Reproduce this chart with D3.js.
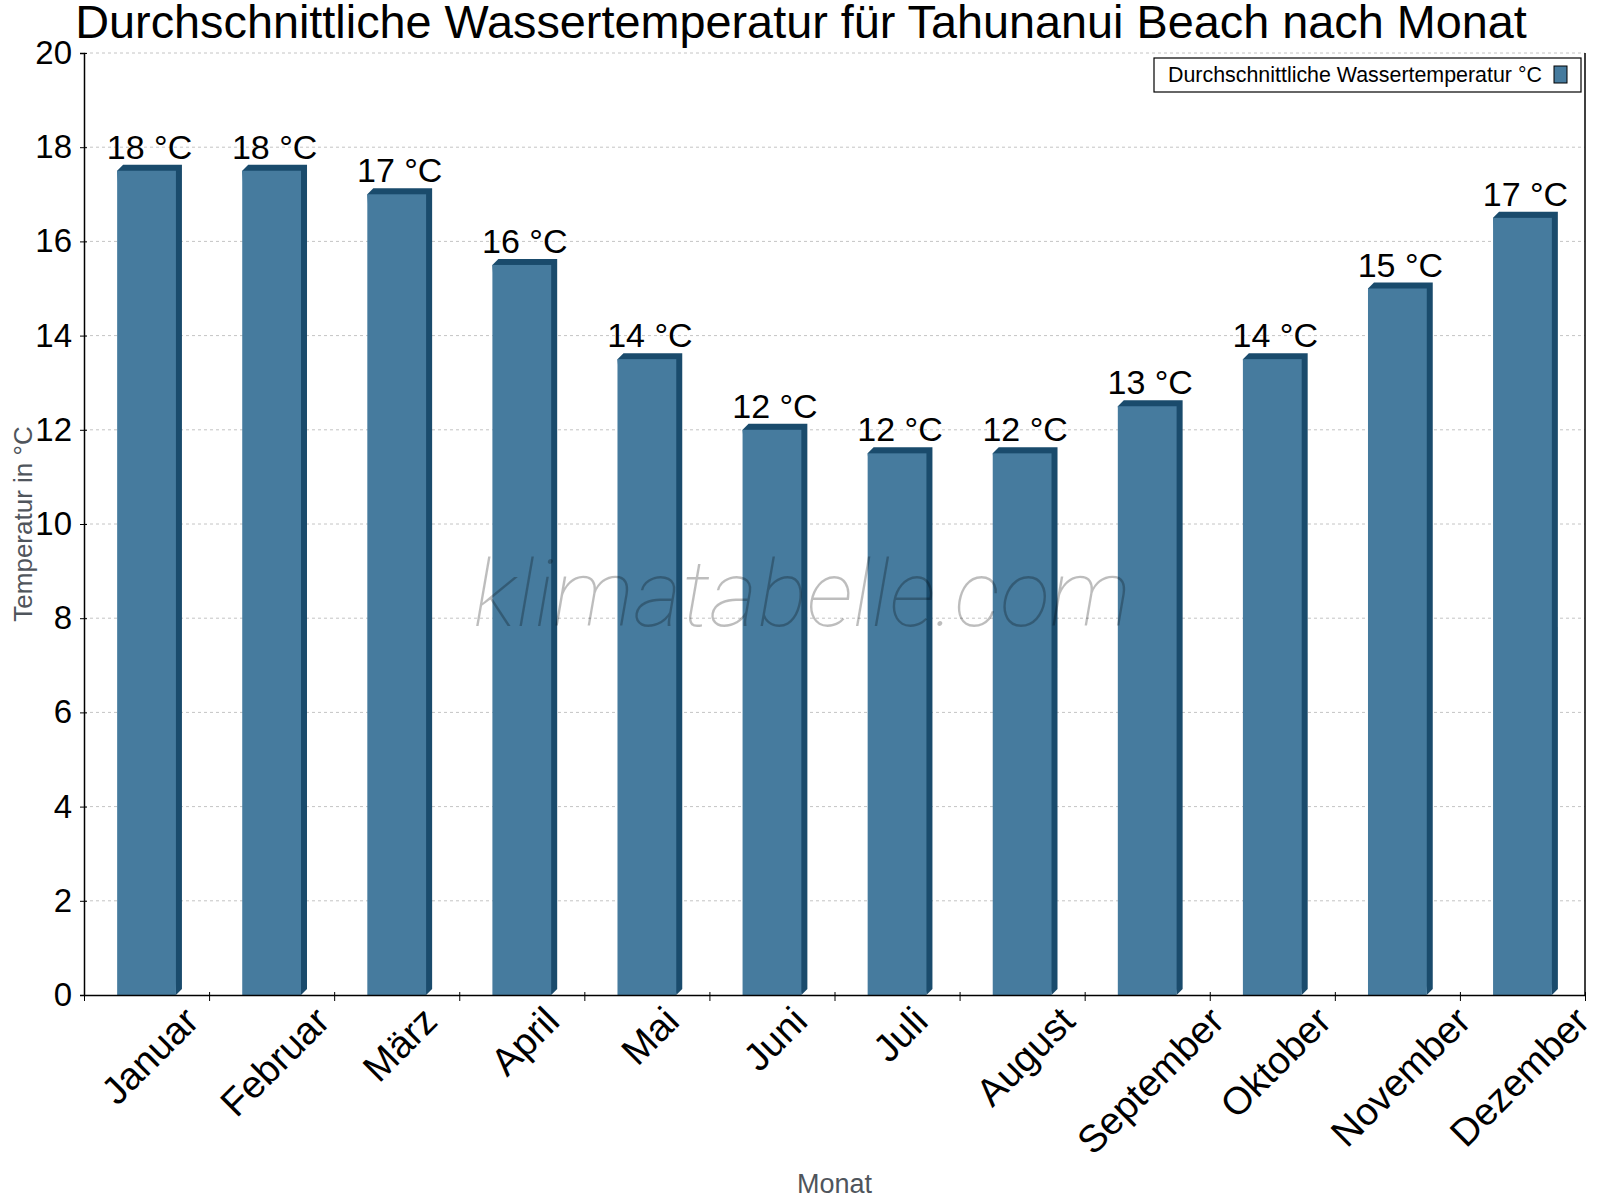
<!DOCTYPE html>
<html lang="de">
<head>
<meta charset="UTF-8" />
<title>Wassertemperatur Tahunanui Beach</title>
<script src="https://cdn.jsdelivr.net/npm/d3@7"></script>
<style>
    html, body { margin: 0; padding: 0; background: #fff; }
    svg { display: block; font-family: "Liberation Sans", Arial, sans-serif; }
</style>
</head>
<body>
<div id="chart"></div>
<script>
    // chart data
    const months = ["Januar", "Februar", "März", "April", "Mai", "Juni",
        "Juli", "August", "September", "Oktober", "November", "Dezember"];
    const waterTemp = [17.5, 17.5, 17.0, 15.5, 13.5, 12.0, 11.5, 11.5, 12.5, 13.5, 15.0, 16.5];
    const yTicks = [0, 2, 4, 6, 8, 10, 12, 14, 16, 18, 20];

    const title = "Durchschnittliche Wassertemperatur für Tahunanui Beach nach Monat";
    const seriesName = "Durchschnittliche Wassertemperatur °C";

    const width = 1600, height = 1200;
    const plot = { left: 84, right: 1585, top: 53, bottom: 995 };
    const front = "#467b9e", dark = "#1a4b6c";
    const depth = 6;

    const svg = d3.select("#chart").append("svg")
        .attr("width", width)
        .attr("height", height);

    const x = d3.scaleBand().domain(months).range([plot.left, plot.right]).padding(0);
    const y = d3.scaleLinear().domain([0, 20]).range([plot.bottom, plot.top]);

    // gridlines
    svg.append("g")
        .selectAll("line")
        .data(yTicks.filter(d => d > 0))
        .join("line")
        .attr("x1", plot.left).attr("x2", plot.right)
        .attr("y1", d => y(d)).attr("y2", d => y(d))
        .attr("stroke", "#c4c4c4")
        .attr("stroke-dasharray", "3,3");

    // bars (front face + dark top and side)
    const bw = x.bandwidth() * 0.47;
    const bars = svg.append("g")
        .selectAll("g")
        .data(months.map((m, i) => ({ m, v: waterTemp[i] })))
        .join("g");

    bars.append("path")
        .attr("fill", dark)
        .attr("d", d => {
            const x0 = x(d.m) + (x.bandwidth() - bw) / 2, x1 = x0 + bw;
            const yt = y(d.v), yb = y(0);
            return `M${x0},${yt} L${x0 + depth},${yt - depth} L${x1 + depth},${yt - depth}
                    L${x1 + depth},${yb - depth} L${x1},${yb} Z`;
        });

    bars.append("rect")
        .attr("fill", front)
        .attr("x", d => x(d.m) + (x.bandwidth() - bw) / 2)
        .attr("y", d => y(d.v))
        .attr("width", bw)
        .attr("height", d => y(0) - y(d.v));

    bars.append("text")
        .attr("x", d => x(d.m) + x.bandwidth() / 2 + depth / 2)
        .attr("y", d => y(d.v) - depth - 6)
        .attr("text-anchor", "middle")
        .attr("font-size", 34)
        .attr("fill", "#000")
        .text(d => Math.round(d.v) + " °C");

    // y axis
    const yAxis = svg.append("g")
        .attr("transform", `translate(${plot.left},0)`)
        .call(d3.axisLeft(y).tickValues(yTicks).tickSize(4).tickPadding(8));
    yAxis.select(".domain").attr("stroke", "#000").attr("stroke-width", 1.5);
    yAxis.selectAll(".tick line").attr("x2", -4).attr("x1", 3).attr("stroke", "#000");
    yAxis.selectAll(".tick text")
        .attr("font-size", 33)
        .attr("font-family", "Liberation Sans, Arial, sans-serif")
        .attr("fill", "#000");

    // right border
    svg.append("line")
        .attr("x1", plot.right).attr("x2", plot.right)
        .attr("y1", plot.top).attr("y2", plot.bottom)
        .attr("stroke", "#000").attr("stroke-width", 1.5);

    // x axis with ticks at the band boundaries
    const xb = d3.scaleLinear().domain([0, months.length]).range([plot.left, plot.right]);
    const xAxis = svg.append("g")
        .attr("transform", `translate(0,${plot.bottom})`)
        .call(d3.axisBottom(xb).tickValues(d3.range(0, months.length + 1)).tickFormat("").tickSizeOuter(0));
    xAxis.select(".domain").attr("stroke", "#000").attr("stroke-width", 1.5);
    xAxis.selectAll(".tick line").attr("y1", -3).attr("y2", 6).attr("stroke", "#000");

    // rotated month labels, rotated box centred under the bar, kept inside the image
    const labelSize = 38.5;
    const labelTop = plot.bottom + 9;
    svg.append("g")
        .selectAll("text")
        .data(months)
        .join("text")
        .attr("font-size", labelSize)
        .attr("text-anchor", "middle")
        .attr("dominant-baseline", "central")
        .attr("fill", "#000")
        .text(d => d)
        .each(function (d) {
            const w = this.getComputedTextLength();
            const half = 0.354 * w + 0.255 * labelSize;
            const cx = Math.min(x(d) + x.bandwidth() / 2 + 3, width - 8 - half);
            const cy = labelTop + half;
            d3.select(this)
                .attr("x", cx).attr("y", cy)
                .attr("transform", `rotate(-45,${cx},${cy})`);
        });

    // axis titles
    svg.append("text")
        .attr("transform", `translate(32,${(plot.top + plot.bottom) / 2}) rotate(-90)`)
        .attr("text-anchor", "middle")
        .attr("font-size", 26)
        .attr("fill", "#4f555c")
        .text("Temperatur in °C");

    svg.append("text")
        .attr("x", (plot.left + plot.right) / 2)
        .attr("y", 1193)
        .attr("text-anchor", "middle")
        .attr("font-size", 27)
        .attr("fill", "#4f555c")
        .text("Monat");

    // title
    svg.append("text")
        .attr("x", 801)
        .attr("y", 38)
        .attr("text-anchor", "middle")
        .attr("font-size", 46.8)
        .attr("fill", "#000")
        .text(title);

    // legend
    const legend = svg.append("g");
    legend.append("rect")
        .attr("x", 1154).attr("y", 58)
        .attr("width", 1581 - 1154).attr("height", 34)
        .attr("fill", "#fff")
        .attr("stroke", "#000").attr("stroke-width", 1.2);
    legend.append("text")
        .attr("x", 1168).attr("y", 82)
        .attr("font-size", 21.4)
        .attr("fill", "#000")
        .text(seriesName);
    legend.append("rect")
        .attr("x", 1554).attr("y", 66)
        .attr("width", 13).attr("height", 17)
        .attr("fill", front)
        .attr("stroke", "#000").attr("stroke-width", 1);

    // watermark
    svg.append("text")
        .attr("x", 802)
        .attr("y", 626)
        .attr("text-anchor", "middle")
        .attr("font-family", "Roboto, sans-serif")
        .attr("font-style", "italic")
        .attr("font-weight", 100)
        .attr("font-size", 93)
        .attr("fill", "rgba(0,0,0,0.26)")
        .text("klimatabelle.com");
</script>
</body>
</html>
